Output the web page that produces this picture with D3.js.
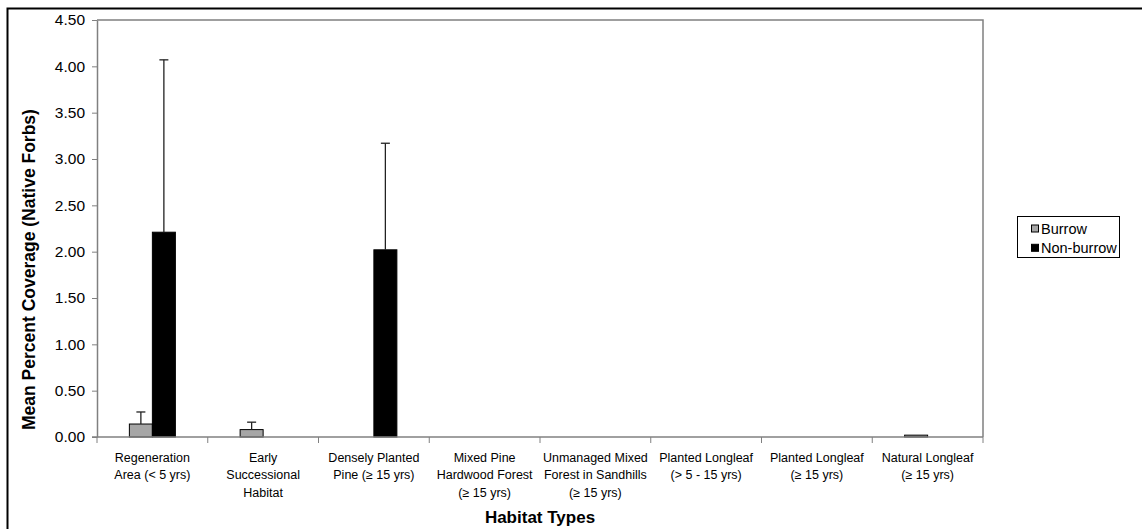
<!DOCTYPE html>
<html>
<head>
<meta charset="utf-8">
<script src="https://cdn.jsdelivr.net/npm/d3@7"></script>
<style>
  body { margin: 0; background: #fff; }
  text { font-family: "Liberation Sans", Arial, sans-serif; fill: #000; }
</style>
</head>
<body>
<svg width="1142" height="529"></svg>
<script>
const categories = [
  ['Regeneration', 'Area (< 5 yrs)'],
  ['Early', 'Successional', 'Habitat'],
  ['Densely Planted', 'Pine (≥ 15 yrs)'],
  ['Mixed Pine', 'Hardwood Forest', '(≥ 15 yrs)'],
  ['Unmanaged Mixed', 'Forest in Sandhills', '(≥ 15 yrs)'],
  ['Planted Longleaf', '(> 5 - 15 yrs)'],
  ['Planted Longleaf', '(≥ 15 yrs)'],
  ['Natural Longleaf', '(≥ 15 yrs)']
];
const seriesNames = ['Burrow', 'Non-burrow'];
const burrowMeans = [0.14, 0.08, 0, 0, 0, 0, 0, 0.02];
const burrowErrors = [0.13, 0.08, 0, 0, 0, 0, 0, 0];
const nonBurrowMeans = [2.21, 0, 2.02, 0, 0, 0, 0, 0];
const nonBurrowErrors = [1.86, 0, 1.15, 0, 0, 0, 0, 0];
const yTicks = [0, 0.5, 1, 1.5, 2, 2.5, 3, 3.5, 4, 4.5];

(function(d3) {
  'use strict';

  const svg = d3.select('svg');
  const colors = { 'Burrow': '#a6a6a6', 'Non-burrow': '#000000' };

  const margin = { top: 20, left: 97, right: 983, bottom: 437 };

  // outer chart border
  svg.append('rect')
      .attr('x', 7.5).attr('y', 8.5)
      .attr('width', 1200).attr('height', 600)
      .attr('fill', 'none').attr('stroke', '#000').attr('stroke-width', 2);

  const x0 = d3.scaleBand()
      .domain(d3.range(categories.length))
      .range([margin.left, margin.right]);

  const groupW = 46;
  const x1 = d3.scaleBand()
      .domain(seriesNames)
      .range([x0.bandwidth() / 2 - groupW / 2, x0.bandwidth() / 2 + groupW / 2]);

  const y = d3.scaleLinear()
      .domain([0, 4.5])
      .range([margin.bottom, margin.top]);

  // plot frame (top & right)
  svg.append('path')
      .attr('d', `M${margin.left},${margin.top}H${margin.right}V${margin.bottom}`)
      .attr('fill', 'none').attr('stroke', '#808080').attr('stroke-width', 1.5);

  // y axis
  const yAxis = svg.append('g')
      .attr('transform', `translate(${margin.left},0)`)
      .call(d3.axisLeft(y).tickValues(yTicks).tickFormat(d3.format('.2f')).tickSize(5).tickSizeOuter(0));
  yAxis.select('.domain').attr('stroke', '#808080').attr('stroke-width', 1.5);
  yAxis.selectAll('.tick line').attr('stroke', '#808080');
  yAxis.selectAll('.tick text')
      .attr('x', -12)
      .style('font-family', '"Liberation Sans", Arial, sans-serif')
      .style('font-size', '15.5px')
      .attr('fill', '#000');

  const rows = categories.map((c, i) => ({
    i,
    values: [
      { key: 'Burrow', v: burrowMeans[i], e: burrowErrors[i] },
      { key: 'Non-burrow', v: nonBurrowMeans[i], e: nonBurrowErrors[i] }
    ]
  }));

  const groups = svg.append('g').selectAll('g').data(rows).enter().append('g')
      .attr('transform', d => `translate(${x0(d.i)},0)`);

  const items = groups.selectAll('g').data(d => d.values.filter(v => v.v > 0)).enter().append('g');

  items.append('rect')
      .attr('x', d => x1(d.key))
      .attr('width', x1.bandwidth())
      .attr('y', d => y(d.v))
      .attr('height', d => y(0) - y(d.v))
      .attr('fill', d => colors[d.key])
      .attr('stroke', '#000').attr('stroke-width', 1);

  const errs = items.filter(d => d.e > 0);
  errs.append('line')
      .attr('x1', d => x1(d.key) + x1.bandwidth() / 2)
      .attr('x2', d => x1(d.key) + x1.bandwidth() / 2)
      .attr('y1', d => y(d.v))
      .attr('y2', d => y(d.v + d.e))
      .attr('stroke', '#222').attr('stroke-width', 1.3);
  errs.append('line')
      .attr('x1', d => x1(d.key) + x1.bandwidth() / 2 - 4.5)
      .attr('x2', d => x1(d.key) + x1.bandwidth() / 2 + 4.5)
      .attr('y1', d => y(d.v + d.e))
      .attr('y2', d => y(d.v + d.e))
      .attr('stroke', '#222').attr('stroke-width', 1.3);

  // x axis
  svg.append('line')
      .attr('x1', margin.left - 5).attr('x2', margin.right)
      .attr('y1', margin.bottom).attr('y2', margin.bottom)
      .attr('stroke', '#808080').attr('stroke-width', 1.5);
  const bounds = d3.range(categories.length + 1).map(i => margin.left + i * x0.bandwidth());
  svg.append('g').selectAll('line').data(bounds).enter().append('line')
      .attr('x1', d => d).attr('x2', d => d)
      .attr('y1', margin.bottom).attr('y2', margin.bottom + 6)
      .attr('stroke', '#808080').attr('stroke-width', 1);

  const labels = svg.append('g').selectAll('text').data(categories).enter().append('text')
      .attr('text-anchor', 'middle')
      .style('font-size', '12.5px');
  labels.selectAll('tspan').data((d, i) => d.map(t => ({ t, i }))).enter().append('tspan')
      .attr('x', d => x0(d.i) + x0.bandwidth() / 2)
      .attr('y', (d, j) => 461.5 + j * 17.7)
      .text(d => d.t);

  // axis titles
  svg.append('text')
      .attr('x', (margin.left + margin.right) / 2)
      .attr('y', 522.5)
      .attr('text-anchor', 'middle')
      .style('font-size', '17px').style('font-weight', 'bold')
      .text('Habitat Types');

  svg.append('text')
      .attr('transform', 'translate(35,430) rotate(-90)')
      .attr('text-anchor', 'start')
      .style('font-size', '17.5px').style('font-weight', 'bold')
      .text('Mean Percent Coverage (Native Forbs)');

  // legend
  const legend = svg.append('g');
  legend.append('rect')
      .attr('x', 1017.5).attr('y', 216.5)
      .attr('width', 102).attr('height', 41)
      .attr('fill', '#fff').attr('stroke', '#000').attr('stroke-width', 1);
  const li = legend.selectAll('g').data(seriesNames).enter().append('g')
      .attr('transform', (d, i) => `translate(1031,${228.5 + i * 19.3})`);
  li.append('rect')
      .attr('x', 0.5).attr('y', -3.5)
      .attr('width', 7).attr('height', 7)
      .attr('fill', d => colors[d]).attr('stroke', '#000').attr('stroke-width', 1);
  li.append('text')
      .attr('x', 10).attr('y', 5)
      .style('font-size', '14.5px')
      .text(d => d);

}(d3));
</script>
</body>
</html>
